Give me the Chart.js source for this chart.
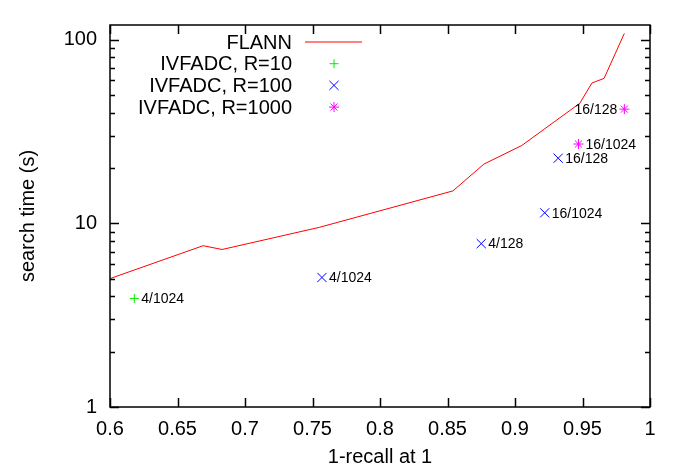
<!DOCTYPE html>
<html>
<head>
<meta charset="utf-8">
<script src="https://cdn.jsdelivr.net/npm/chart.js@4.4.1/dist/chart.umd.min.js"></script>
<style>
  html, body { margin: 0; padding: 0; background: #fff; }
  #wrap { width: 691px; height: 474px; }
</style>
</head>
<body>
<div id="wrap"><canvas id="chart" width="691" height="474"></canvas></div>
<script>
// data
const flannRecall = [0.6, 0.669, 0.683, 0.755, 0.854, 0.877, 0.905, 0.948, 0.957, 0.966, 0.981];
const flannTime   = [5.0, 7.55, 7.2, 9.5, 15.0, 21.0, 26.5, 45, 58, 61.5, 108];

const r10Recall = [0.618];
const r10Time   = [3.9];
const r10Labels = ['4/1024'];

const r100Recall = [0.757, 0.875, 0.922, 0.932];
const r100Time   = [5.07, 7.75, 11.4, 22.6];
const r100Labels = ['4/1024', '4/128', '16/1024', '16/128'];

const r1000Recall = [0.947, 0.981];
const r1000Time   = [27.0, 41.8];
const r1000Labels = ['16/1024', '16/128'];

const xTicks = [0.6, 0.65, 0.7, 0.75, 0.8, 0.85, 0.9, 0.95, 1];
const yTicks = [1, 10, 100];

const FONT = 'Liberation Sans, Arial, sans-serif';

const toPoints = (xs, ys) => xs.map((x, i) => ({ x: x, y: ys[i] }));

// point labels next to markers (label on left for negative side)
const pointLabels = {
  id: 'pointLabels',
  afterDatasetsDraw(chart) {
    const ctx = chart.ctx;
    ctx.save();
    ctx.font = '14px ' + FONT;
    ctx.fillStyle = '#000';
    ctx.textBaseline = 'middle';
    chart.data.datasets.forEach((ds, di) => {
      if (!ds.pointText) return;
      const meta = chart.getDatasetMeta(di);
      meta.data.forEach((el, i) => {
        const side = ds.textSide ? ds.textSide[i] : 1;
        ctx.textAlign = side > 0 ? 'left' : 'right';
        ctx.fillText(ds.pointText[i], el.x + side * 7, el.y + 1);
      });
    });
    ctx.restore();
  }
};

// gnuplot style frame with inward ticks on all four sides
const frame = {
  id: 'frame',
  afterDraw(chart) {
    const ctx = chart.ctx;
    const a = chart.chartArea;
    const xs = chart.scales.x, ys = chart.scales.y;
    ctx.save();
    ctx.strokeStyle = '#000';
    ctx.lineWidth = 1.5;
    ctx.beginPath();
    xTicks.forEach(v => {
      const px = Math.round(xs.getPixelForValue(v)) + 0.5;
      ctx.moveTo(px, a.bottom); ctx.lineTo(px, a.bottom - 9);
      ctx.moveTo(px, a.top); ctx.lineTo(px, a.top + 9);
    });
    [1, 10, 100].forEach(dec => {
      for (let m = 1; m <= 9; m++) {
        const v = dec * m;
        if (v > ys.max) break;
        const len = m === 1 ? 9 : 5;
        const py = Math.round(ys.getPixelForValue(v)) + 0.5;
        ctx.moveTo(a.left, py); ctx.lineTo(a.left + len, py);
        ctx.moveTo(a.right, py); ctx.lineTo(a.right - len, py);
      }
    });
    ctx.stroke();
    ctx.strokeRect(a.left, a.top, a.right - a.left, a.bottom - a.top);
    ctx.restore();
  }
};

// legend: text right aligned, sample on the right
const keyBox = {
  id: 'keyBox',
  afterDraw(chart) {
    const ctx = chart.ctx;
    ctx.save();
    ctx.font = '20px ' + FONT;
    ctx.textAlign = 'right';
    ctx.textBaseline = 'middle';
    chart.data.datasets.forEach((ds, i) => {
      const y = 42 + i * 21.7;
      ctx.fillStyle = '#000';
      ctx.fillText(ds.label, 292, y + 1);
      ctx.strokeStyle = ds.borderColor;
      ctx.lineWidth = 1;
      if (ds.showLine) {
        ctx.beginPath();
        ctx.moveTo(305, y); ctx.lineTo(362, y);
        ctx.stroke();
      } else {
        Chart.helpers.drawPoint(ctx, {
          pointStyle: ds.pointStyle, radius: ds.pointRadius,
          borderWidth: 1, rotation: 0
        }, 334, y);
      }
    });
    ctx.restore();
  }
};

new Chart(document.getElementById('chart'), {
  type: 'scatter',
  data: {
    datasets: [
      {
        label: 'FLANN',
        data: toPoints(flannRecall, flannTime),
        showLine: true,
        borderColor: '#ff0000',
        borderWidth: 1,
        pointRadius: 0,
        tension: 0
      },
      {
        label: 'IVFADC, R=10',
        data: toPoints(r10Recall, r10Time),
        pointText: r10Labels,
        pointStyle: 'cross',
        pointRadius: 4.5,
        borderColor: '#00ee00',
        backgroundColor: '#00ee00',
        borderWidth: 1
      },
      {
        label: 'IVFADC, R=100',
        data: toPoints(r100Recall, r100Time),
        pointText: r100Labels,
        pointStyle: 'crossRot',
        pointRadius: 6.5,
        borderColor: '#0000ff',
        backgroundColor: '#0000ff',
        borderWidth: 1
      },
      {
        label: 'IVFADC, R=1000',
        data: toPoints(r1000Recall, r1000Time),
        pointText: r1000Labels,
        textSide: [1, -1],
        pointStyle: 'star',
        pointRadius: 5,
        borderColor: '#ff00ff',
        backgroundColor: '#ff00ff',
        borderWidth: 1
      }
    ]
  },
  options: {
    responsive: false,
    animation: false,
    devicePixelRatio: 1,
    layout: { padding: { top: 24, right: 41, left: 0, bottom: 0 } },
    plugins: { legend: { display: false }, tooltip: { enabled: false } },
    scales: {
      x: {
        type: 'linear',
        min: 0.6, max: 1,
        grid: { display: false, drawTicks: false },
        border: { display: false },
        afterBuildTicks: s => { s.ticks = xTicks.map(v => ({ value: v })); },
        afterFit: s => { s.height = 67; },
        ticks: {
          color: '#000', padding: 10, maxRotation: 0, autoSkip: false,
          font: { family: FONT, size: 20 },
          callback: v => String(+v.toFixed(2))
        },
        title: {
          display: true, text: '1-recall at 1', color: '#000',
          font: { family: FONT, size: 20 }, padding: { bottom: 5 }
        }
      },
      y: {
        type: 'logarithmic',
        min: 1, max: 120,
        grid: { display: false, drawTicks: false },
        border: { display: false },
        afterBuildTicks: s => { s.ticks = yTicks.map(v => ({ value: v })); },
        afterFit: s => { s.width = 110; },
        ticks: {
          color: '#000', padding: 13, autoSkip: false,
          font: { family: FONT, size: 20 },
          callback: v => String(v)
        },
        title: {
          display: true, text: 'search time (s)', color: '#000',
          font: { family: FONT, size: 20 }, padding: { top: 16 }
        }
      }
    }
  },
  plugins: [pointLabels, frame, keyBox]
});
</script>
</body>
</html>
